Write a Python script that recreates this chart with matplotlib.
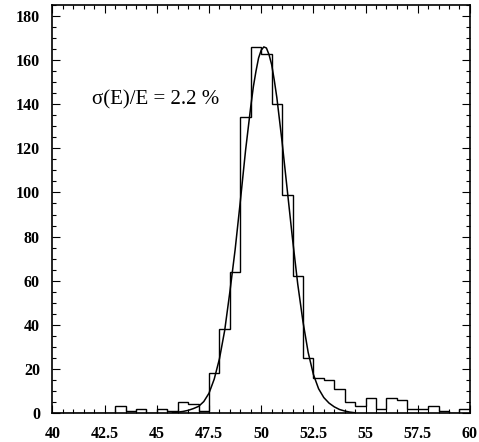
import numpy as np
import matplotlib
matplotlib.use("Agg")
import matplotlib.pyplot as plt
from matplotlib.ticker import MultipleLocator

# histogram: 0.5 wide bins from 40 to 60
bin_lo = 40.0
bin_hi = 60.0
bin_w = 0.5
counts = [0, 0, 0, 0, 0, 0, 3, 1, 2, 0,
          2, 1, 5, 4, 1, 18, 38, 64, 134, 166,
          163, 140, 99, 62, 25, 16, 15, 11, 5, 3,
          7, 2, 7, 6, 2, 2, 3, 1, 0, 2]

# fitted curve
fit_x = [45.75, 46.0, 46.25, 46.5, 46.75, 47.0, 47.25, 47.5, 47.75, 48.0,
         48.25, 48.5, 48.75, 49.0, 49.25, 49.5, 49.625, 49.75, 49.875, 50.0,
         50.125, 50.25, 50.375, 50.5, 50.625, 50.75, 51.0, 51.25, 51.5, 51.75,
         52.0, 52.25, 52.5, 52.75, 53.0, 53.25, 53.5, 53.75, 54.0, 54.25, 54.5]
fit_y = [0.2, 0.4, 0.7, 1.2, 2.0, 3.0, 5.2, 9.0, 15.4, 24.6,
         37.4, 55, 74, 96, 119, 139, 148, 155, 161, 164.5,
         166, 165.5, 162.5, 158, 151, 143, 123, 101, 79, 58.5,
         41.5, 27.5, 17.5, 11, 7, 4.5, 2.8, 1.6, 0.9, 0.4, 0.1]

xticks = [40, 42.5, 45, 47.5, 50, 52.5, 55, 57.5, 60]
xtick_labels = ["40", "42.5", "45", "47.5", "50", "52.5", "55", "57.5", "60"]
yticks = [0, 20, 40, 60, 80, 100, 120, 140, 160, 180]
label = "σ(E)/E = 2.2 %"

plt.rcParams["font.family"] = ["Liberation Serif", "DejaVu Serif"]

fig = plt.figure(figsize=(4.79, 4.42), dpi=100)
ax = fig.add_axes([0.1096, 0.0656, 0.8714, 0.9231])

edges = np.arange(bin_lo, bin_hi + bin_w / 2, bin_w)
ax.stairs(counts, edges, color="black", lw=1.0)
ax.plot(fit_x, fit_y, color="black", lw=1.1)

ax.set_xlim(bin_lo, bin_hi)
ax.set_ylim(0, 185)
ax.set_xticks(xticks)
ax.set_xticklabels(xtick_labels)
ax.set_yticks(yticks)
ax.xaxis.set_minor_locator(MultipleLocator(0.5))
ax.yaxis.set_minor_locator(MultipleLocator(5))
ax.tick_params(which="both", direction="in", top=True, right=True,
               labelsize=11.5, width=0.8)
ax.tick_params(which="major", length=6)
ax.tick_params(which="minor", length=3)
ax.tick_params(axis="x", pad=9)
ax.tick_params(axis="y", pad=9)
for t in ax.get_xticklabels() + ax.get_yticklabels():
    t.set_fontweight("bold")
for s in ax.spines.values():
    s.set_linewidth(1.2)

ax.text(41.9, 142, label, fontsize=15, ha="left", va="center")

fig.savefig("out.png", dpi=100)
